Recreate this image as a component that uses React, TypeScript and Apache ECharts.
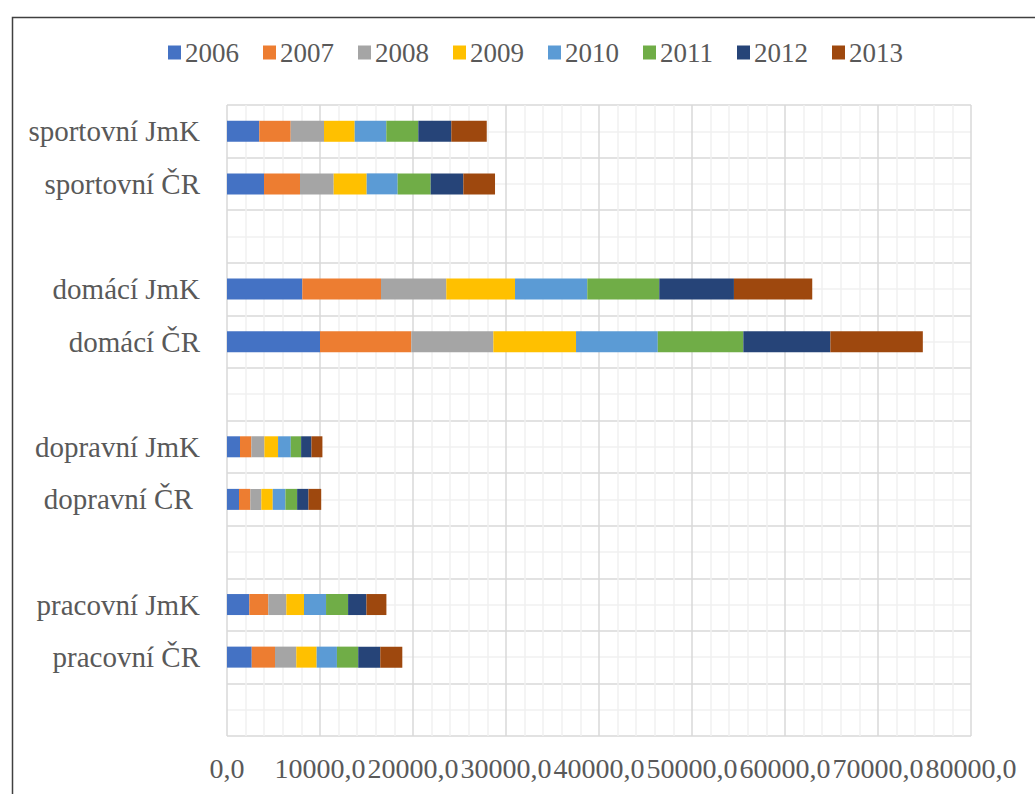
import React, { useEffect, useRef } from "react";
import * as echarts from "echarts";

// Rows listed bottom-to-top (category axis order); empty strings are spacer rows.
const rowLabels = [
  "",
  "pracovní ČR",
  "pracovní JmK",
  " ",
  "dopravní ČR ",
  "dopravní JmK",
  "  ",
  "domácí ČR",
  "domácí JmK",
  "   ",
  "sportovní ČR",
  "sportovní JmK",
];

const years = ["2006", "2007", "2008", "2009", "2010", "2011", "2012", "2013"];

const colors = [
  "#4472C4",
  "#ED7D31",
  "#A5A5A5",
  "#FFC000",
  "#5B9BD5",
  "#70AD47",
  "#264478",
  "#9E480E",
];

// Values per year, aligned with rowLabels (null for spacer rows).
const v2006 = [null, 2660, 2400, null, 1290, 1400, null, 10000, 8100, null, 3980, 3470];
const v2007 = [null, 2500, 2040, null, 1220, 1220, null, 9820, 8460, null, 3870, 3380];
const v2008 = [null, 2290, 1940, null, 1180, 1400, null, 8820, 7020, null, 3620, 3580];
const v2009 = [null, 2190, 1900, null, 1230, 1470, null, 8890, 7390, null, 3550, 3300];
const v2010 = [null, 2180, 2370, null, 1360, 1370, null, 8790, 7770, null, 3330, 3400];
const v2011 = [null, 2290, 2370, null, 1260, 1110, null, 9200, 7740, null, 3550, 3440];
const v2012 = [null, 2370, 1970, null, 1220, 1110, null, 9360, 8030, null, 3510, 3550];
const v2013 = [null, 2370, 2150, null, 1370, 1180, null, 9940, 8420, null, 3410, 3810];

const yearValues = [v2006, v2007, v2008, v2009, v2010, v2011, v2012, v2013];

const xTicks = { min: 0, max: 80000, interval: 10000 };

const FONT = '"Liberation Serif", "Times New Roman", serif';
const TEXT = "#595959";

export default function App() {
  const ref = useRef<HTMLDivElement>(null);

  useEffect(() => {
    if (!ref.current) return;
    const chart = echarts.init(ref.current, undefined, { renderer: "svg" });

    const series = years.map((y, i) => ({
      name: y,
      type: "bar" as const,
      stack: "total",
      yAxisIndex: 0,
      barWidth: 21,
      itemStyle: { color: colors[i] },
      data: yearValues[i],
    }));

    chart.setOption({
      animation: false,
      backgroundColor: "#ffffff",
      color: colors,
      textStyle: { fontFamily: FONT },
      graphic: [
        {
          type: "rect",
          left: 10,
          top: 15,
          shape: { width: 1100, height: 900 },
          style: { fill: "none", stroke: "#404040", lineWidth: 1.5 },
          silent: true,
        },
      ],
      legend: {
        data: years,
        left: 163,
        top: 34,
        icon: "rect",
        itemWidth: 13,
        itemHeight: 14,
        itemGap: 24,
        textStyle: { fontFamily: FONT, fontSize: 27, color: TEXT, padding: [0, 0, 0, -1] },
      },
      grid: {
        left: 227,
        right: 64,
        top: 105,
        bottom: 58,
        containLabel: false,
      },
      xAxis: {
        type: "value",
        min: xTicks.min,
        max: xTicks.max,
        interval: xTicks.interval,
        axisLine: { show: false },
        axisTick: { show: false },
        axisLabel: {
          fontFamily: FONT,
          fontSize: 28,
          color: TEXT,
          margin: 18,
          formatter: (v: number) => v.toFixed(1).replace(".", ","),
        },
        splitLine: { show: true, lineStyle: { color: "#d9d9d9", width: 1.5 } },
        minorTick: { show: false, splitNumber: 5 },
        minorSplitLine: { show: true, lineStyle: { color: "#f0f0f0", width: 1.5 } },
      },
      yAxis: [
        {
          type: "category",
          data: rowLabels,
          axisLine: { show: false },
          axisTick: { show: false },
          splitLine: { show: false },
          axisLabel: {
            fontFamily: FONT,
            fontSize: 29,
            color: TEXT,
            margin: 27,
            interval: 0,
          },
        },
        {
          // Row grid: boundaries between rows plus lighter lines through row centres
          type: "value",
          min: 0,
          max: rowLabels.length,
          interval: 1,
          position: "left",
          axisLine: { show: false },
          axisTick: { show: false },
          axisLabel: { show: false },
          splitLine: { show: true, lineStyle: { color: "#d9d9d9", width: 1.5 } },
          minorTick: { show: false, splitNumber: 2 },
          minorSplitLine: { show: true, lineStyle: { color: "#f0f0f0", width: 1.5 } },
        },
      ],
      series,
    });

    return () => chart.dispose();
  }, []);

  return (
    <div
      ref={ref}
      style={{ position: "fixed", left: 0, top: 0, width: 1035, height: 794, background: "#fff" }}
    />
  );
}
